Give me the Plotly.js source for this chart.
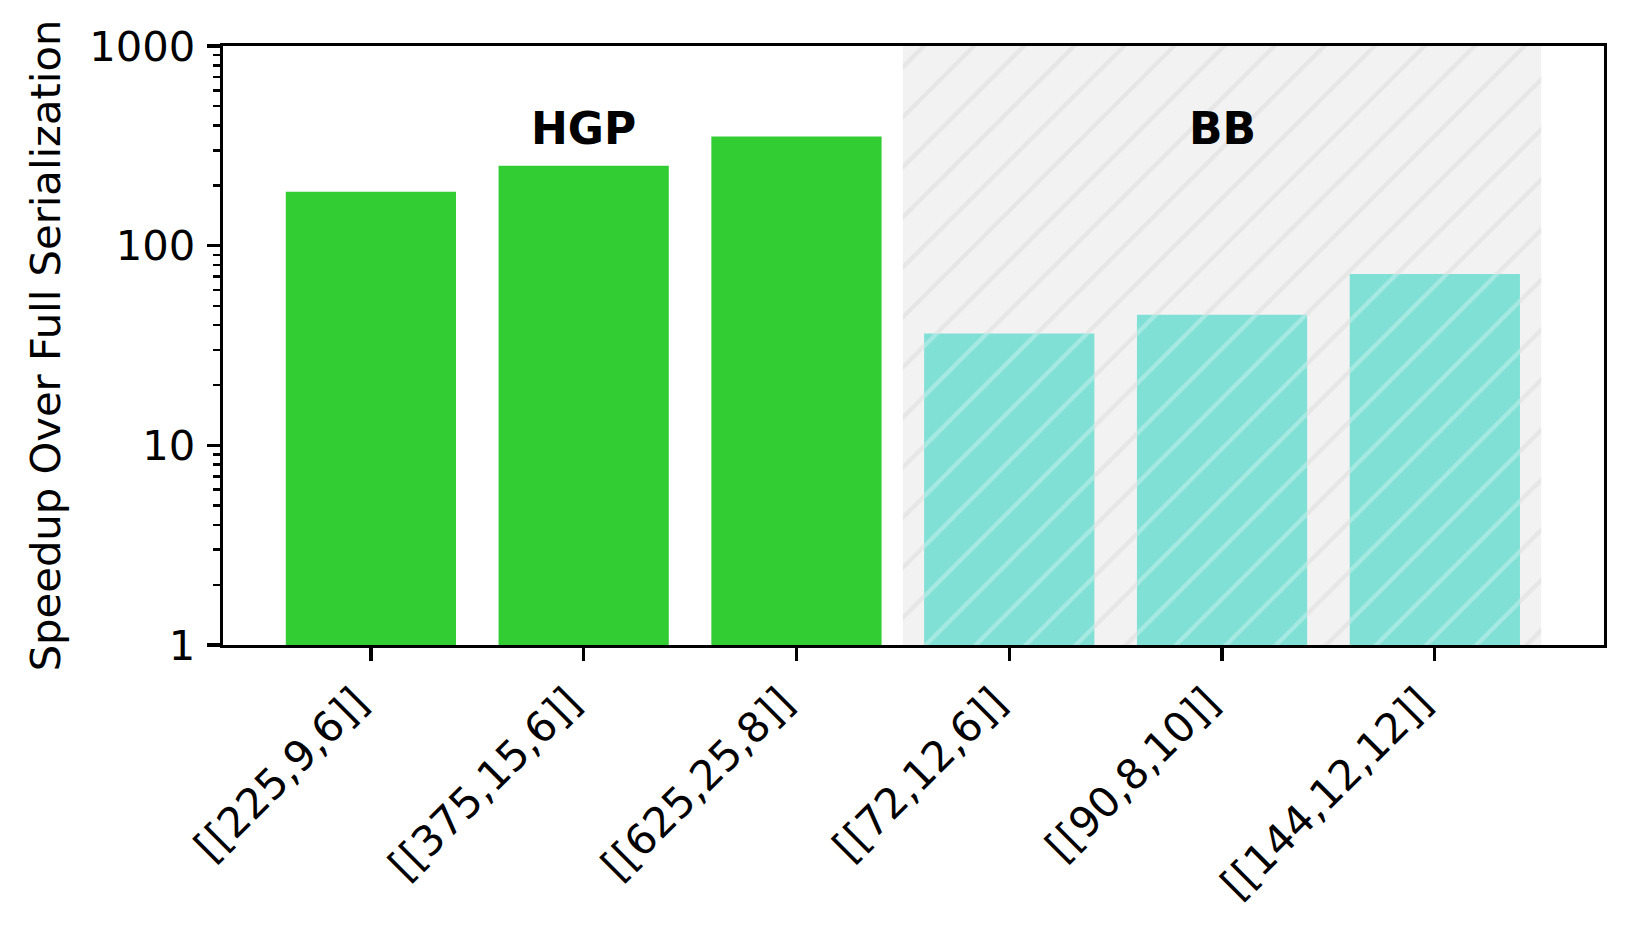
<!DOCTYPE html>
<html>
<head>
<meta charset="utf-8">
<script src="https://cdn.plot.ly/plotly-3.0.1.min.js"></script>
<style>
html, body { margin: 0; padding: 0; background: #ffffff; }
#chart { width: 1635px; height: 930px; }
</style>
</head>
<body>
<div id="chart"></div>
<script>
// Data
const categories = ["[[225,9,6]]", "[[375,15,6]]", "[[625,25,8]]", "[[72,12,6]]", "[[90,8,10]]", "[[144,12,12]]"];
const hgpIndex = [0, 1, 2];
const hgpValues = [186, 251, 352];
const bbIndex = [3, 4, 5];
const bbValues = [36.3, 45.1, 72.1];
const groupLabels = ["HGP", "BB"];
const groupLabelPos = [1, 4];
const groupLabelY = 385;
const yTickVals = [1, 10, 100, 1000];
const yTickText = ["1", "10", "100", "1000"];
// BB region span (category positions)
const bbSpan = [2.5, 5.5];
const yMin = 1, yMax = 1000;

const FONT = "DejaVu Sans";
const FS = 41.7;

const traces = [
  {
    type: "bar",
    x: [(bbSpan[0] + bbSpan[1]) / 2],
    y: [yMax - yMin],
    base: [yMin],
    width: [bbSpan[1] - bbSpan[0]],
    marker: {
      color: "#f2f2f2",
      line: { width: 0 },
      pattern: { shape: "/", size: 35.4, solidity: 0.12, fgcolor: "#e6e6e6", bgcolor: "#f2f2f2", fillmode: "replace" }
    },
    hoverinfo: "skip",
    showlegend: false
  },
  {
    type: "bar",
    x: hgpIndex,
    y: hgpValues,
    width: 0.8,
    marker: { color: "#32cd32", line: { width: 0 } },
    showlegend: false
  },
  {
    type: "bar",
    x: bbIndex,
    y: bbValues,
    width: 0.8,
    marker: {
      color: "#80e0d5",
      line: { width: 0 },
      pattern: { shape: "/", size: 35.4, solidity: 0.12, fgcolor: "#ffffff", fgopacity: 0.3, bgcolor: "#80e0d5", fillmode: "replace" }
    },
    showlegend: false
  }
];

const layout = {
  width: 1635,
  height: 930,
  paper_bgcolor: "#ffffff",
  plot_bgcolor: "#ffffff",
  margin: { l: 222.6, r: 30.6, t: 46, b: 285, pad: 0 },
  barmode: "overlay",
  font: { family: FONT, size: FS, color: "#000000" },
  xaxis: {
    range: [-0.695, 5.795],
    tickmode: "array",
    tickvals: categories.map((c, i) => i),
    ticktext: categories,
    tickangle: -45,
    ticks: "outside",
    ticklen: 13,
    tickwidth: 3.3,
    tickcolor: "#000000",
    ticklabelshift: -15,
    showline: true,
    linewidth: 3.3,
    linecolor: "#000000",
    mirror: true,
    showgrid: false,
    zeroline: false,
    tickfont: { family: FONT, size: FS, color: "#000000" },
    fixedrange: true
  },
  yaxis: {
    type: "log",
    range: [Math.log10(yMin), Math.log10(yMax)],
    tickmode: "array",
    tickvals: yTickVals,
    ticktext: yTickText,
    ticks: "outside",
    ticklen: 13,
    tickwidth: 3.3,
    tickcolor: "#000000",
    ticklabelstandoff: 3,
    minor: { dtick: "D1", ticks: "outside", ticklen: 7, tickwidth: 2.5, tickcolor: "#000000", showgrid: false },
    showline: true,
    linewidth: 3.3,
    linecolor: "#000000",
    mirror: true,
    showgrid: false,
    zeroline: false,
    tickfont: { family: FONT, size: FS, color: "#000000" },
    title: { text: "Speedup Over Full Serialization", font: { family: FONT, size: FS, color: "#000000" }, standoff: 16 },
    fixedrange: true
  },
  annotations: groupLabels.map((t, i) => ({
    x: groupLabelPos[i],
    y: Math.log10(groupLabelY),
    xref: "x",
    yref: "y",
    text: "<b>" + t + "</b>",
    showarrow: false,
    xanchor: "center",
    yanchor: "middle",
    font: { family: FONT, size: 44, color: "#000000" }
  }))
};

Plotly.newPlot("chart", traces, layout, { displayModeBar: false, staticPlot: true });
</script>
</body>
</html>
